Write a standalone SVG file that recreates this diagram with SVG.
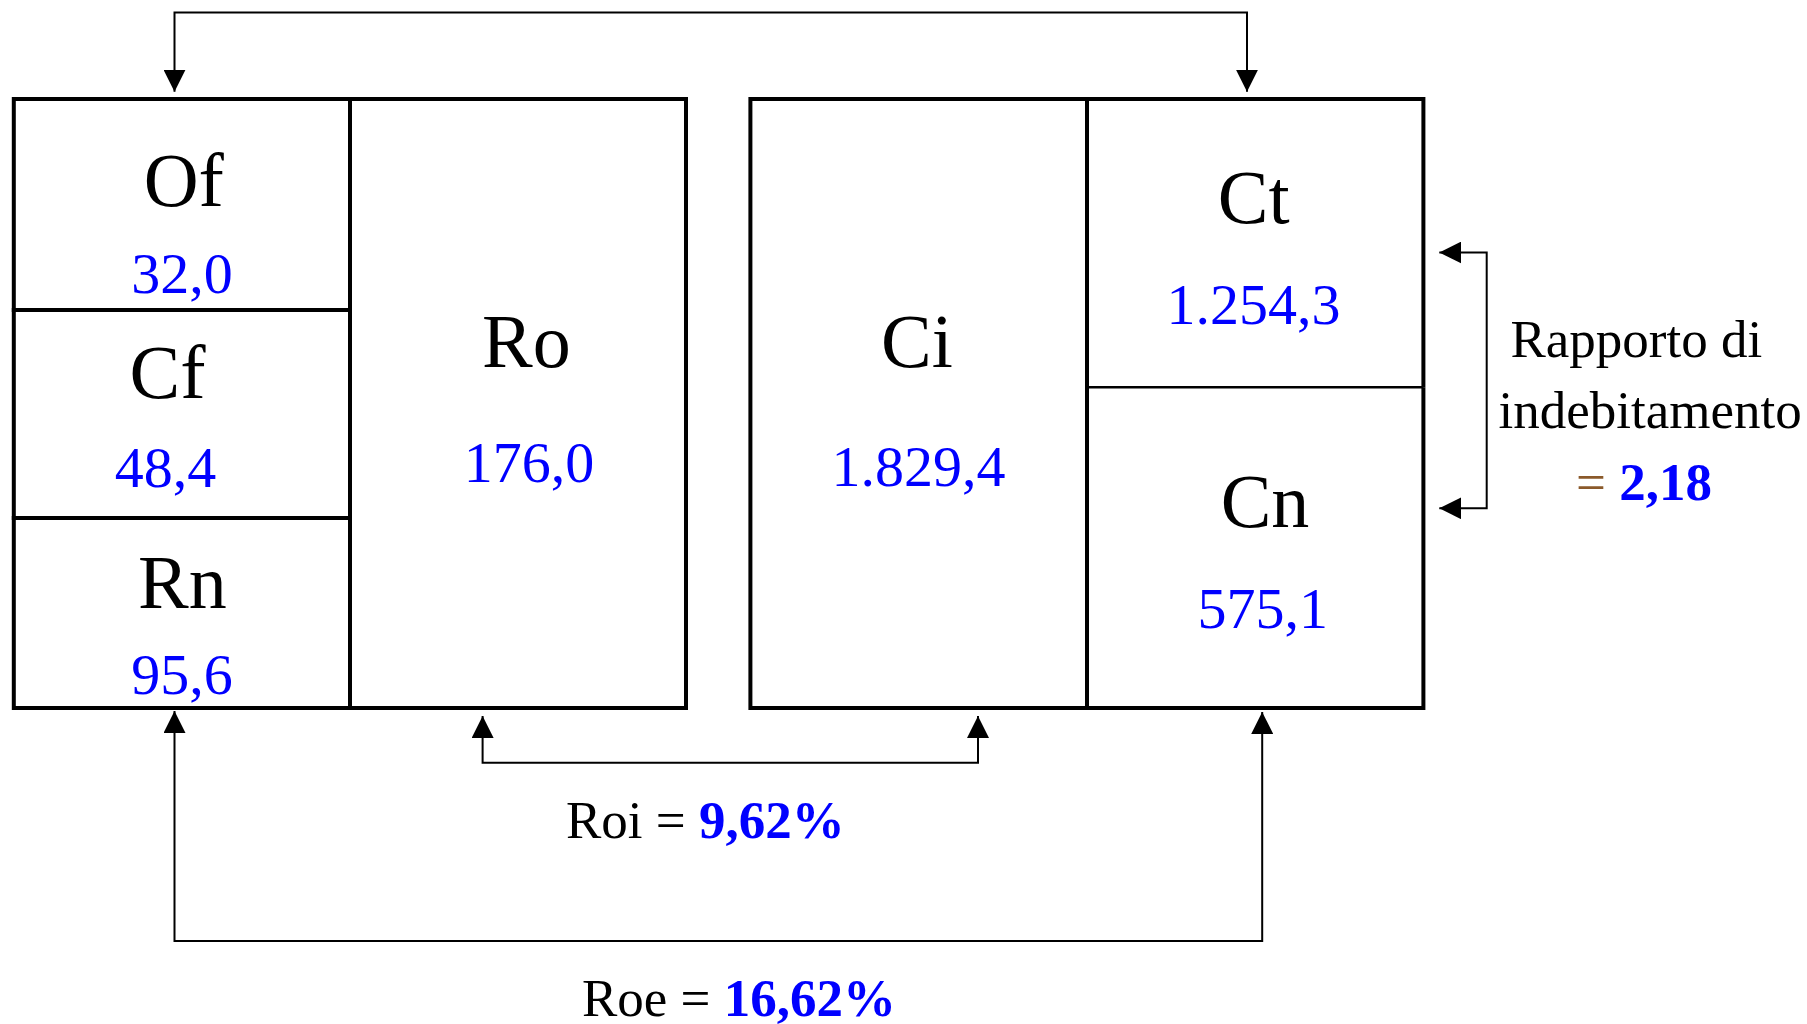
<svg xmlns="http://www.w3.org/2000/svg" width="1807" height="1024" viewBox="0 0 1807 1024">
<style>
.cell{fill:none;stroke:#000;stroke-width:4}
.thin{fill:none;stroke:#000;stroke-width:2.5}
.conn{fill:none;stroke:#000;stroke-width:2}
.lab{font-family:"Liberation Serif","Times New Roman",serif;font-size:76px;fill:#000;text-anchor:middle}
.val{font-family:"Liberation Serif","Times New Roman",serif;font-size:58px;fill:#0000FF;text-anchor:middle}
.ann{font-family:"Liberation Serif","Times New Roman",serif;font-size:53px;fill:#000}
.b{font-weight:bold;fill:#0000FF}
.br{fill:#8B5A2B}
</style>
<defs>
<marker id="ah" viewBox="0 0 22 22" markerUnits="userSpaceOnUse" markerWidth="22" markerHeight="22" refX="22" refY="11" orient="auto-start-reverse">
<path d="M0,0 L22,11 L0,22 z" fill="#000"/>
</marker>
</defs>
<rect width="1807" height="1024" fill="#fff"/>
<g id="connectors">
<path class="conn" d="M174.5,91.7 V12.5 H1247 V91.7" marker-start="url(#ah)" marker-end="url(#ah)"/>
<path class="conn" d="M174.5,711 V941 H1262.2 V712" marker-start="url(#ah)" marker-end="url(#ah)"/>
<path class="conn" d="M482.6,716 V762.7 H978 V716" marker-start="url(#ah)" marker-end="url(#ah)"/>
<path class="conn" d="M1439.3,252.5 H1486.7 V508.3 H1439.3" marker-start="url(#ah)" marker-end="url(#ah)"/>
</g>
<g id="node-Of">
<rect class="cell" x="13.8" y="99" width="336.2" height="211"/>
<text class="lab" x="183.8" y="205.7">Of</text>
<text class="val" x="182" y="293">32,0</text>
</g>
<g id="node-Cf">
<rect class="cell" x="13.8" y="310" width="336.2" height="208"/>
<text class="lab" x="167.6" y="398">Cf</text>
<text class="val" x="165.5" y="486.7">48,4</text>
</g>
<g id="node-Rn">
<rect class="cell" x="13.8" y="518" width="336.2" height="190"/>
<text class="lab" x="182.3" y="607.7">Rn</text>
<text class="val" x="182" y="694.3">95,6</text>
</g>
<g id="node-Ro">
<rect class="cell" x="350" y="99" width="336" height="609"/>
<text class="lab" x="526.4" y="366.7">Ro</text>
<text class="val" x="529" y="481.7">176,0</text>
</g>
<g id="node-Ci">
<rect class="cell" x="750.4" y="99" width="336.6" height="609"/>
<text class="lab" x="917" y="367.3">Ci</text>
<text class="val" x="918.5" y="485.7">1.829,4</text>
</g>
<g id="node-Ct">
<path class="cell" d="M1087,387.3 V99 H1423.4 V387.3"/>
<line class="thin" x1="1087" y1="387.3" x2="1423.4" y2="387.3"/>
<text class="lab" x="1253.6" y="222.7">Ct</text>
<text class="val" x="1253.5" y="323.5">1.254,3</text>
</g>
<g id="node-Cn">
<path class="cell" d="M1087,387.3 V708 H1423.4 V387.3"/>
<text class="lab" x="1265" y="526.7">Cn</text>
<text class="val" x="1262.8" y="627.7">575,1</text>
</g>
<g id="label-rapporto">
<text class="ann" x="1510.5" y="356.7">Rapporto di</text>
<text class="ann" x="1498.5" y="427.7">indebitamento</text>
<text class="ann" x="1576" y="500"><tspan class="br">=</tspan> <tspan class="b">2,18</tspan></text>
</g>
<g id="label-roi">
<text class="ann" x="566" y="837.7">Roi = <tspan class="b">9,62%</tspan></text>
</g>
<g id="label-roe">
<text class="ann" x="582" y="1016">Roe = <tspan class="b">16,62%</tspan></text>
</g>
</svg>
